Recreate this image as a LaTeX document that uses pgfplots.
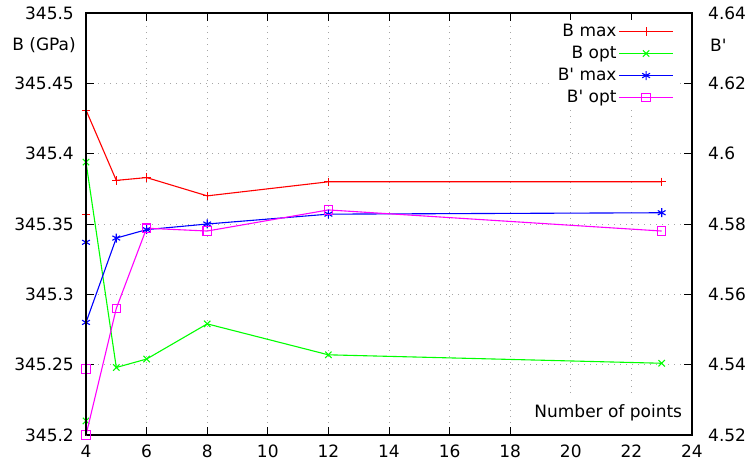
\documentclass[border=0pt]{standalone}
\usepackage{pgfplots}
\pgfplotsset{compat=1.18}
\usepackage{fontspec}
\setmainfont{DejaVu Sans}
\definecolor{gpred}{RGB}{255,0,0}
\definecolor{gpgreen}{RGB}{0,255,0}
\definecolor{gpblue}{RGB}{0,0,255}
\definecolor{gpmag}{RGB}{255,0,255}
\pgfplotsset{
  layers/mylayers/.define layer set={axis background,axis grid,main,axis ticks,axis lines,axis tick labels,axis descriptions,axis foreground}{},
  common/.style={
    set layers=mylayers,
    scale only axis, width=606pt, height=422pt,
    at={(0pt,0pt)}, anchor=south west,
    xmin=4, xmax=24,
    tick align=inside,
    major tick length=8pt,
    every tick/.style={black, line width=0.9pt},
    axis line style={black, line width=1.4pt},
    tick label style={font=\fontsize{17}{20}\selectfont, black},
    every axis plot/.append style={line width=1.1pt},
    every mark/.append style={solid},
  },
}
\begin{document}
\fontsize{17}{20}\selectfont
\begin{tikzpicture}
\begin{axis}[common,
  xtick={4,6,8,10,12,14,16,18,20,22,24},
  xticklabels={4,6,8,10,12,14,16,18,20,22,24},
  xtick pos=both,
  ymin=345.2, ymax=345.5,
  ytick={345.2,345.25,345.3,345.35,345.4,345.45,345.5},
  yticklabels={345.2,345.25,345.3,345.35,345.4,345.45,345.5},
  ytick pos=left,
  yticklabel style={inner sep=0pt, xshift=-12pt},
  xticklabel style={inner sep=0pt, yshift=-10pt},
  grid=major,
  grid style={dash pattern=on 1pt off 5pt, gray!70, line width=0.9pt},
]
\fill[white] (rel axis cs:0.73,0.0) rectangle (rel axis cs:0.993,0.095);
\node[anchor=east, inner sep=0pt] at (rel axis cs:0.984,0.053) {Number of points};
\addplot[gpred, mark=+, mark size=4.2pt] coordinates {
  (4,345.357) (4,345.431) (5,345.381) (6,345.383) (8,345.370) (12,345.380) (23,345.380)
};
\addplot[gpgreen, mark=x, mark size=4.5pt] coordinates {
  (4,345.210) (4,345.394) (5,345.248) (6,345.254) (8,345.279) (12,345.257) (23,345.251)
};
\end{axis}
\begin{axis}[common,
  xtick=\empty,
  ymin=4.52, ymax=4.64,
  ytick={4.52,4.54,4.56,4.58,4.6,4.62,4.64},
  yticklabels={4.52,4.54,4.56,4.58,4.6,4.62,4.64},
  ytick pos=right,
  yticklabel style={inner sep=0pt, xshift=16pt},
  legend plot pos=right,
  legend cell align=right,
  legend style={at={(rel axis cs:0.975,0.985)}, anchor=north east, draw=none, fill=white,
    font=\fontsize{17}{20}\selectfont, row sep=2pt,
    nodes={inner sep=2pt, text height=12.5pt, text depth=3.5pt}},
  legend image code/.code={\draw[mark repeat=2,mark phase=2,#1] plot coordinates {(0pt,0pt) (27pt,0pt) (54pt,0pt)};},
]
\addlegendimage{gpred, mark=+, mark size=4.2pt, line width=1.1pt}
\addlegendentry{B max}
\addlegendimage{gpgreen, mark=x, mark size=4.5pt, line width=1.1pt}
\addlegendentry{B opt}
\addplot[gpblue, mark=asterisk, mark size=4.5pt] coordinates {
  (4,4.5748) (4,4.552) (5,4.576) (6,4.5784) (8,4.580) (12,4.5828) (23,4.5832)
};
\addlegendentry{B\textquotesingle{} max}
\addplot[gpmag, mark=square, mark size=4.2pt] coordinates {
  (4,4.5388) (4,4.520) (5,4.556) (6,4.5788) (8,4.578) (12,4.584) (23,4.578)
};
\addlegendentry{B\textquotesingle{} opt}
\end{axis}
\draw[black, line width=1.4pt] (0pt,0pt) -- (0pt,422pt);
\node[anchor=east, inner sep=0pt] at (-10pt,390pt) {B (GPa)};
\node[anchor=west, inner sep=0pt] at (624pt,390pt) {B\textquotesingle};
\pgfresetboundingbox
\path[use as bounding box] (-86pt,-37pt) rectangle (662pt,435pt);
\end{tikzpicture}
\end{document}
